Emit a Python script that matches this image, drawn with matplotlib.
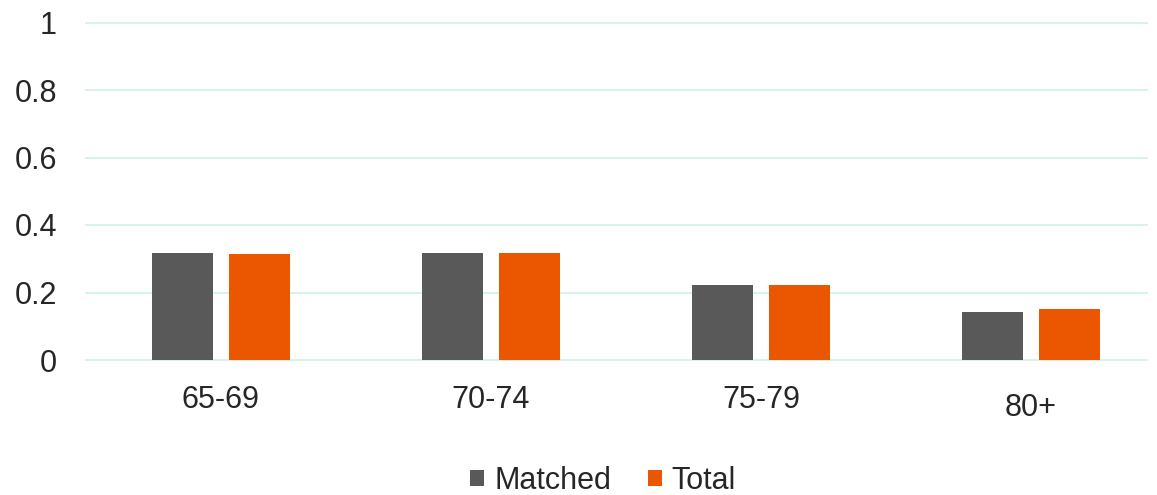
import matplotlib
matplotlib.use('Agg')
import matplotlib.pyplot as plt
import numpy as np
from matplotlib.transforms import ScaledTranslation

# data
categories = ["65-69", "70-74", "75-79", "80+"]
matched = [0.317, 0.317, 0.222, 0.143]
total = [0.314, 0.317, 0.222, 0.151]
y_ticks = [0, 0.2, 0.4, 0.6, 0.8, 1]
y_tick_labels = ["0", "0.2", "0.4", "0.6", "0.8", "1"]

plt.rcParams['font.family'] = ['Liberation Sans', 'DejaVu Sans']
text_color = '#262626'
grid_color = '#D5F3EE'
fs = 22

fig = plt.figure(figsize=(11.57, 4.95), dpi=100)
W, H = 1157.0, 495.0
ax = fig.add_axes([86 / W, 135 / H, 1061 / W, 337.5 / H])

x = np.arange(len(categories))
bw = 0.226
ax.bar(x - 0.1415, matched, bw, color='#595959', label='Matched', zorder=3)
ax.bar(x + 0.1425, total, bw, color='#EB5600', label='Total', zorder=3)

ax.set_xlim(-0.5, 3.43)
ax.set_ylim(0, 1)
ax.set_yticks(y_ticks)
ax.set_yticklabels(y_tick_labels)
for t in y_ticks:
    ax.axhline(t, color=grid_color, lw=1.4, zorder=1, clip_on=False)

ax.set_xticks(x)
ax.set_xticklabels(categories)
ax.tick_params(axis='both', length=0, labelsize=fs, colors=text_color)
ax.tick_params(axis='y', pad=21)
ax.tick_params(axis='x', pad=18)
# the last category label sits a bit lower in the original
lab = ax.get_xticklabels()[-1]
lab.set_transform(lab.get_transform() + ScaledTranslation(0, -8 / 100.0, fig.dpi_scale_trans))

for s in ax.spines.values():
    s.set_visible(False)

leg = fig.legend(loc='center', bbox_to_anchor=(603 / W, 1 - 481 / H), ncol=2,
                 frameon=False, fontsize=fs, handlelength=0.46, handleheight=0.46,
                 handletextpad=0.33, columnspacing=1.2, borderpad=0)
for t in leg.get_texts():
    t.set_color(text_color)

plt.savefig('out.png', dpi=100)
